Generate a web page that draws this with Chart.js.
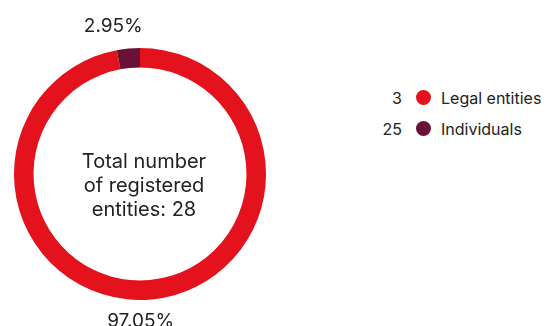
<!DOCTYPE html>
<html>
<head>
<meta charset="utf-8">
<script src="https://cdn.jsdelivr.net/npm/chart.js@4"></script>
<style>
  html, body { margin: 0; padding: 0; background: #fff; }
  body { width: 546px; height: 326px; position: relative; overflow: hidden; font-family: Inter, "Noto Sans", sans-serif; }
  #wrap { position: absolute; left: 0; top: 0; width: 280px; height: 326px; }
  #legend { position: absolute; left: 370px; top: 82px; }
  .row { display: flex; align-items: center; height: 31px; color: #222; font-size: 16px; }
  .row .num { width: 32px; text-align: right; }
  .row .dot { width: 15px; height: 15px; border-radius: 50%; margin: 0 10px 0 14px; }
</style>
</head>
<body>
<div id="wrap"><canvas id="donut"></canvas></div>
<div id="legend"></div>
<script>
/* global Chart */
const categories = ['Legal entities', 'Individuals'];
const counts = [3, 25];
const shares = [97.05, 2.95];
const shareLabels = ['97.05%', '2.95%'];
const colors = ['#e3121c', '#6b1135'];
const centerLines = ['Total number', 'of registered', 'entities: 28'];

// Legend: count, dot, name
const legend = document.getElementById('legend');
categories.forEach((name, i) => {
    const row = document.createElement('div');
    row.className = 'row';
    row.innerHTML = '<span class="num">' + counts[i] + '</span>' +
        '<span class="dot" style="background:' + colors[i] + '"></span>' +
        '<span>' + name + '</span>';
    legend.appendChild(row);
});

// Text in the hole and percentage labels outside the ring
const donutText = {
    id: 'donutText',
    afterDraw(chart) {
        const ctx = chart.ctx;
        const meta = chart.getDatasetMeta(0);
        const arc0 = meta.data[0];
        const cx = arc0.x, cy = arc0.y;
        ctx.save();
        ctx.fillStyle = '#222';
        ctx.textAlign = 'center';
        ctx.textBaseline = 'middle';
        ctx.font = '20px Inter, "Noto Sans", sans-serif';
        const lh = 24;
        centerLines.forEach((line, i) => {
            ctx.fillText(line, cx + 4, cy + 12 + (i - (centerLines.length - 1) / 2) * lh);
        });
        ctx.font = '19px Inter, "Noto Sans", sans-serif';
        meta.data.forEach((arc, i) => {
            const mid = (arc.startAngle + arc.endAngle) / 2;
            const r = arc.outerRadius + 22;
            const x = cx + Math.cos(mid) * r - 13;
            const y = cy + Math.sin(mid) * r;
            ctx.fillText(shareLabels[i], x, y);
        });
        ctx.restore();
    }
};

new Chart(document.getElementById('donut'), {
    type: 'doughnut',
    data: {
        labels: categories,
        datasets: [{
            data: shares,
            backgroundColor: colors,
            borderWidth: 0
        }]
    },
    options: {
        responsive: true,
        maintainAspectRatio: false,
        animation: false,
        cutout: '84.5%',
        layout: { padding: { top: 48, bottom: 26, left: 0, right: 0 } },
        plugins: {
            legend: { display: false },
            tooltip: { enabled: false }
        }
    },
    plugins: [donutText]
});
</script>
</body>
</html>
